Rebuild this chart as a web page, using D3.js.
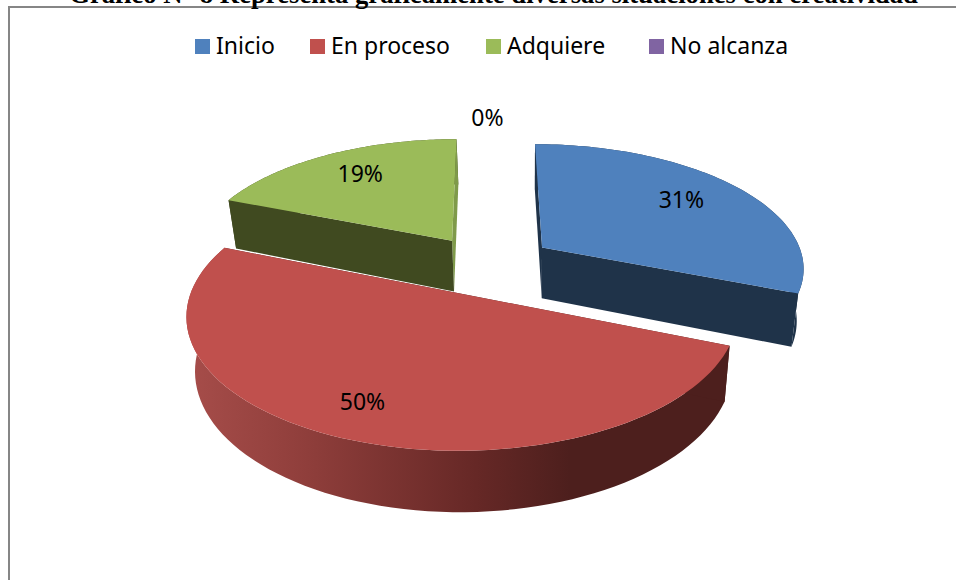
<!DOCTYPE html>
<html>

<head>
    <meta charset="utf-8">
</head>

<body>
    <svg id='viz'></svg>
</body>
<style>
    body {
        margin: 0;
        background: #fff;
    }

    svg {
        display: block;
    }

    text {
        font-family: "Noto Sans";
        fill: #000;
    }
</style>
<script src='https://d3js.org/d3.v7.min.js'></script>
<script>
    var width = 956;
    var height = 580;

    var title = "Gráfico N° 8 Representa gráficamente diversas situaciones con creatividad";
    var categories = ["Inicio", "En proceso", "Adquiere", "No alcanza"];
    var values = [31, 50, 19, 0];
    var topColors = ["#4f81bd", "#c0504d", "#9bbb59", "#8064a2"];
    var wallColors = ["#1f3349", "#4d1f1d", "#404a20", "#33284a"];
    var endWallColors = ["#1f3349", "#4d1f1d", "#7f9a4a", "#33284a"];

    // how far each slice is pulled out of the pie
    var explode = [68, 64, 64, 64];
    // label placement, as fraction of radius from the slice apex and turn in degrees
    var labelFrac = [0.73, 0.79, 0.75, 1.205];
    var labelTurn = [-2, 2, 1.5, 0.1];
    var legendSwatchX = [195, 310, 486, 649];

    // fake 3d: a tilted plane with some perspective
    var cx = 487, cy = 265, radius = 263, tilt = 0.47, persp = 0.15;

    function project(gx, gy) {
        var s = 1 / (1 - persp * gy / radius);
        return [cx + gx * s, cy + gy * tilt * s];
    }

    // same point on the bottom face of the pie
    function lower(p) {
        return [530 + (p[0] - 530) * 0.975, p[1] * 1.052 + 38];
    }

    var svg = d3.select("#viz").attr("width", width).attr("height", height);

    var defs = svg.append("defs");
    var grad = defs.append("linearGradient")
        .attr("id", "redWall")
        .attr("gradientUnits", "userSpaceOnUse")
        .attr("x1", 195).attr("x2", 570).attr("y1", 0).attr("y2", 0);
    grad.append("stop").attr("offset", "0").attr("stop-color", "#a54c49");
    grad.append("stop").attr("offset", "0.3").attr("stop-color", "#8f3e3b");
    grad.append("stop").attr("offset", "0.75").attr("stop-color", "#662826");
    grad.append("stop").attr("offset", "1").attr("stop-color", "#4d1f1d");

    // frame, only left and top edges show
    svg.append("line").attr("x1", 9).attr("x2", 9).attr("y1", 6).attr("y2", height)
        .attr("stroke", "#868686").attr("stroke-width", 2);
    svg.append("line").attr("x1", 8).attr("x2", width).attr("y1", 7).attr("y2", 7)
        .attr("stroke", "#868686").attr("stroke-width", 2);

    svg.append("text")
        .attr("x", 493.5)
        .attr("y", 3)
        .attr("text-anchor", "middle")
        .style("font-family", "Liberation Serif")
        .style("font-weight", "bold")
        .style("font-size", "26.7px")
        .text(title);

    var pie = d3.pie().sort(null).startAngle(0).endAngle(2 * Math.PI);
    var arcs = pie(values);
    var line = d3.line();

    function toScreen(d, i, a, frac) {
        var mid = (d.startAngle + d.endAngle) / 2;
        return project(
            explode[i] * Math.sin(mid) + frac * radius * Math.sin(a),
            -explode[i] * Math.cos(mid) - frac * radius * Math.cos(a)
        );
    }

    var drawOrder = [2, 0, 1];
    drawOrder.forEach(function (i) {
        var d = arcs[i];
        var steps = d3.range(0, 81).map(function (k) {
            return d.startAngle + (d.endAngle - d.startAngle) * k / 80;
        });
        var rim = steps.map(function (a) { return toScreen(d, i, a, 1); });
        var apex = toScreen(d, i, d.startAngle, 0);
        var g = svg.append("g").attr("class", "slice");
        var last = rim[rim.length - 1];

        g.append("path")
            .attr("d", line(rim.concat(rim.map(lower).reverse())) + "Z")
            .attr("fill", i == 1 ? "url(#redWall)" : wallColors[i]);

        g.append("path")
            .attr("d", line([apex, last, lower(last), lower(apex)]) + "Z")
            .attr("fill", endWallColors[i]);
        g.append("path")
            .attr("d", line([apex, rim[0], lower(rim[0]), lower(apex)]) + "Z")
            .attr("fill", wallColors[i]);

        g.append("path")
            .attr("d", line([apex].concat(rim)) + "Z")
            .attr("fill", topColors[i]);
    });

    arcs.forEach(function (d, i) {
        var mid = (d.startAngle + d.endAngle) / 2 + labelTurn[i] * Math.PI / 180;
        var p = toScreen(d, i, mid, labelFrac[i]);
        svg.append("text")
            .attr("x", p[0])
            .attr("y", p[1])
            .attr("dy", "0.36em")
            .attr("text-anchor", "middle")
            .style("font-size", "23px")
            .text(values[i] + "%");
    });

    var legend = svg.append("g").selectAll("g")
        .data(categories)
        .enter().append("g")
        .attr("transform", function (d, i) { return "translate(" + legendSwatchX[i] + ",39)"; });

    legend.append("rect")
        .attr("width", 15)
        .attr("height", 15)
        .attr("fill", function (d, i) { return topColors[i]; });

    legend.append("text")
        .attr("x", 21)
        .attr("y", 15)
        .style("font-size", "23px")
        .text(function (d) { return d; });
</script>

</html>
